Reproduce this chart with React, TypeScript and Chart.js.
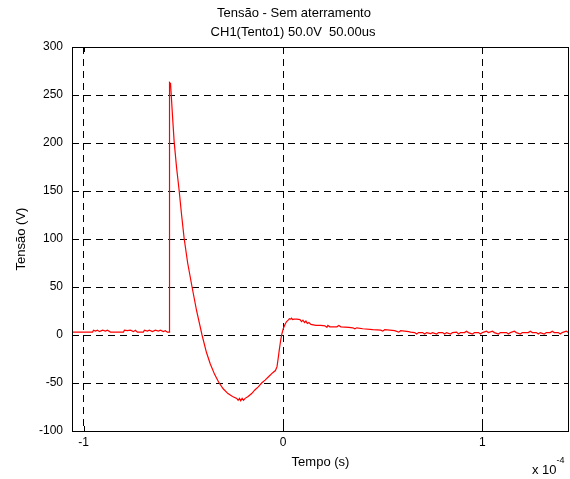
import { useEffect, useRef } from 'react';
import { Chart, registerables } from 'chart.js';

Chart.register(...registerables);

// Time in microseconds, voltage in volts
const TIME_US = [
  -105.8, -103, -100, -97, -95.5, -95, -94, -93, -92, -90.5, -89, -88, -86.5, -82, -80, -79.5, -78, -76.5, -75, -74,
  -73, -70, -69.5, -68, -67, -65.5, -64, -62.5, -61.5, -60, -59, -58, -57.0,
  -57.0, -56.8, -56.4, -56.1, -55.4, -54.6, -53.4, -52.1, -50.9, -49.6, -47.8, -45.6, -43.3, -40.6, -38.4, -36.5,
  -34.3, -32.3, -30.0, -27.6, -25.3, -23.2, -22.5, -21.8, -21.2, -20.5, -19.8, -19.0, -17.5, -15.7, -14.0, -12.4,
  -10.7, -9.0, -7.0, -5.0, -3.8, -3.0, -2.4, -1.9, -1.2, -0.6, 0.2, 1.0, 1.8, 2.6, 3.2, 3.8, 4.3, 4.8, 5.5, 7.0,
  8.5, 9.3, 10.0, 10.8, 11.5, 12.2, 13.0, 14.0, 15.2, 16.5, 19.0, 21.0, 22.0, 22.5, 23.5, 25.0, 27.0, 28.0, 29.0,
  33.0, 35.0, 36.0, 37.0, 40.0, 45.0, 49.0, 50.0, 51.0, 56.0, 58.0, 59.0, 63.0,
  64, 66, 67, 68, 70, 71, 72, 74, 75, 77, 78, 80, 81, 82, 84, 85, 87, 88, 89, 91, 92, 93, 95, 96, 98, 99, 100, 102,
  103, 105, 106, 108, 109, 112, 113, 114, 116, 117, 119, 120, 123, 124, 125, 127, 128, 129, 131, 132, 134, 135, 136,
  138, 139, 140, 142, 143.4,
];

const VOLTAGE = [
  3, 3, 3, 3, 3, 5, 4, 5, 3.5, 5, 4, 5, 3, 3, 3, 5, 4.5, 5, 3.5, 5,
  3, 3, 5, 4, 5, 3.5, 5, 4, 5, 3.5, 4.5, 3, 3,
  258, 263, 262, 252, 228, 202, 175, 151, 126, 101, 75, 50, 25, 0, -18, -30,
  -41, -49, -56, -61, -64, -66, -68, -66, -68.5, -66, -68, -66, -64, -61, -57, -54,
  -50, -47, -43, -39, -37, -33, -24, -16, -6, 1, 7, 11, 14, 15.5, 17, 16.5, 17.5, 16, 16.5, 16.5,
  16, 14, 15.5, 13, 14.5, 12, 13, 11, 10.5, 10, 10, 9.5, 8, 10, 8.5, 8.5, 8.5, 10, 8.5,
  8, 7.5, 6.5, 7.5, 6.5, 5.5, 5, 4, 5.5, 4.5, 3, 4.5, 3.5,
  3, 2.5, 1, 2.5, 2.5, 1, 2.5, 1.5, 2.5, 1, 2.5, 2.5, 1, 2.5, 1, 2.5, 3, 1, 2.5, 2.5, 4, 2.5, 1, 2.5, 2.5, 1, 2.5, 4,
  2.5, 4, 2.5, 1, 2.5, 2.5, 1, 2.5, 4, 2.5, 1, 2.5, 2.5, 4, 2.5, 2.5, 1, 2.5, 1, 2.5, 2.5, 4, 2.5,
  2.5, 1, 2.5, 4, 2.5,
];

const X_TICKS = [-1e-4, 0, 1e-4];
const Y_TICKS = [-100, -50, 0, 50, 100, 150, 200, 250, 300];
const X_MIN = -1.058e-4;
const X_MAX = 1.434e-4;
const TITLE_LINES = ['Tensão - Sem aterramento', 'CH1(Tento1) 50.0V  50.00us'];
const X_LABEL = 'Tempo (s)';
const Y_LABEL = 'Tensão (V)';
const X_EXP_BASE = 'x 10';
const X_EXP = '-4';

const FONT = '"Liberation Sans", Arial, Helvetica, sans-serif';

const framePlugin = {
  id: 'matlabFrame',
  afterDraw(chart: any) {
    const { ctx, chartArea } = chart;
    const { left, right, top, bottom } = chartArea;
    const xs = chart.scales.x;
    const ys = chart.scales.y;
    ctx.save();
    ctx.strokeStyle = '#000';
    ctx.lineWidth = 1;
    ctx.setLineDash([]);
    ctx.beginPath();
    ctx.rect(Math.round(left) + 0.5, Math.round(top) + 0.5, Math.round(right - left) - 1, Math.round(bottom - top));
    ctx.stroke();
    // inward tick marks
    const tl = 5;
    ctx.beginPath();
    X_TICKS.forEach((v) => {
      const p = Math.round(xs.getPixelForValue(v)) + 0.5;
      ctx.moveTo(p, bottom);
      ctx.lineTo(p, bottom - tl);
      ctx.moveTo(p, top);
      ctx.lineTo(p, top + tl);
    });
    Y_TICKS.forEach((v) => {
      const p = Math.round(ys.getPixelForValue(v)) + 0.5;
      ctx.moveTo(left, p);
      ctx.lineTo(left + tl, p);
      ctx.moveTo(right, p);
      ctx.lineTo(right - tl, p);
    });
    ctx.stroke();
    // title
    ctx.fillStyle = '#000';
    ctx.font = `13px ${FONT}`;
    ctx.textAlign = 'center';
    ctx.textBaseline = 'middle';
    ctx.fillText(TITLE_LINES[0], 294, 13);
    ctx.fillText(TITLE_LINES[1], 293, 32);
    // exponent label
    ctx.textAlign = 'left';
    ctx.font = `13px ${FONT}`;
    ctx.fillText(X_EXP_BASE, 532, 470);
    const w = ctx.measureText(X_EXP_BASE).width;
    ctx.font = `9px ${FONT}`;
    ctx.fillText(X_EXP, 532 + w, 461);
    ctx.restore();
  },
};

export default function App() {
  const ref = useRef<HTMLCanvasElement>(null);
  useEffect(() => {
    if (!ref.current) return;
    const data = TIME_US.map((t, i) => ({ x: t * 1e-6, y: VOLTAGE[i] }));
    const chart = new Chart(ref.current, {
      type: 'line',
      data: {
        datasets: [
          {
            data,
            borderColor: '#ff0000',
            borderWidth: 1.2,
            pointRadius: 0,
            tension: 0,
            fill: false,
          },
        ],
      },
      options: {
        animation: false,
        responsive: false,
        parsing: false as any,
        layout: { padding: { top: 47, right: 1, left: 0, bottom: 0 } },
        plugins: {
          legend: { display: false },
          tooltip: { enabled: false },
          title: { display: false },
        },
        scales: {
          x: {
            type: 'linear',
            min: X_MIN,
            max: X_MAX,
            afterBuildTicks: (s: any) => {
              s.ticks = X_TICKS.map((v) => ({ value: v }));
            },
            afterFit: (s: any) => {
              s.height = 48;
            },
            ticks: {
              autoSkip: false,
              maxRotation: 0,
              color: '#000',
              padding: 4,
              font: { family: FONT, size: 12 },
              callback: (v: any) => String(Math.round(Number(v) / 1e-4)),
            },
            grid: { color: '#000', drawTicks: false, lineWidth: 1 },
            border: { display: false, dash: [7, 5] },
            title: {
              display: true,
              text: X_LABEL,
              color: '#000',
              font: { family: FONT, size: 13 },
              padding: { top: 0, bottom: 9 },
            },
          },
          y: {
            type: 'linear',
            min: -100,
            max: 300,
            afterBuildTicks: (s: any) => {
              s.ticks = Y_TICKS.map((v) => ({ value: v }));
            },
            afterFit: (s: any) => {
              s.width = 72;
            },
            ticks: {
              autoSkip: false,
              color: '#000',
              padding: 9,
              font: { family: FONT, size: 12 },
            },
            grid: { color: '#000', drawTicks: false, lineWidth: 1 },
            border: { display: false, dash: [7, 5] },
            title: {
              display: true,
              text: Y_LABEL,
              color: '#000',
              font: { family: FONT, size: 13 },
              padding: { top: 14, bottom: 0 },
            },
          },
        },
      },
      plugins: [framePlugin],
    });
    return () => chart.destroy();
  }, []);
  return (
    <div style={{ position: 'absolute', left: 0, top: 0, width: 570, height: 479, background: '#fff' }}>
      <canvas ref={ref} width={570} height={479} style={{ display: 'block' }} />
    </div>
  );
}
